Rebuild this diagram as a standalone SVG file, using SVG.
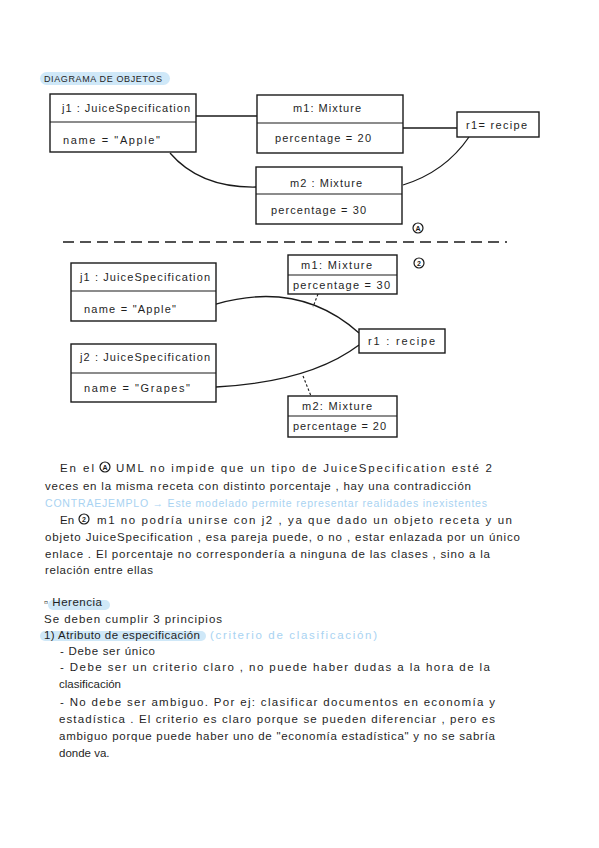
<svg xmlns="http://www.w3.org/2000/svg" width="599" height="848" viewBox="0 0 599 848">
<style>
.bg{fill:#ffffff}
.box{fill:#ffffff;stroke:#1a1a1a;stroke-width:1.4}
.div{stroke:#1a1a1a;stroke-width:1.2}
.ln{fill:none;stroke:#1a1a1a;stroke-width:1.3}
.dash{fill:none;stroke:#1a1a1a;stroke-width:1.1;stroke-dasharray:2.5 2}
.sep{fill:none;stroke:#1a1a1a;stroke-width:1.3;stroke-dasharray:11 6}
.t{font-family:"Liberation Sans",Arial,sans-serif;font-size:11.5px;fill:#1f1f1f}
.bt{font-family:"Liberation Sans",Arial,sans-serif;font-size:11px;fill:#1f1f1f}
.blue{fill:#a9d3f2}
.hl{fill:#cfe8f8}
.mark{fill:#ffffff;stroke:#1a1a1a;stroke-width:1.2}
.mt{font-family:"Liberation Sans",Arial,sans-serif;font-size:7px;font-weight:bold;fill:#1a1a1a;text-anchor:middle}
</style>
<rect class="bg" x="0" y="0" width="599" height="848"/>

<g id="title">
<rect class="hl" x="40" y="72" width="130" height="13" rx="6.5"/>
<text class="t" x="44" y="82" style="font-size:9px" textLength="118" lengthAdjust="spacing">DIAGRAMA DE OBJETOS</text>
</g>

<g id="connectors">
<line class="ln" x1="196" y1="116" x2="257" y2="116"/>
<line class="ln" x1="403" y1="128" x2="457" y2="128"/>
<path class="ln" d="M170 153 Q200 188 256 187"/>
<path class="ln" d="M469 137 Q445 172 403 185"/>
<line class="sep" x1="63" y1="242" x2="507" y2="242"/>
<path class="ln" d="M216 304 Q300 280 359 333"/>
<path class="ln" d="M216 387 Q310 382 359 345"/>
<line class="dash" x1="318" y1="294" x2="313" y2="307"/>
<line class="dash" x1="303" y1="376" x2="311" y2="396"/>
</g>

<g id="j1a">
<rect class="box" x="50" y="94" width="146" height="58"/>
<line class="div" x1="50" y1="122" x2="196" y2="122"/>
<text class="bt" x="62" y="112" textLength="128" lengthAdjust="spacing">j1 : JuiceSpecification</text>
<text class="bt" x="63" y="144" textLength="97" lengthAdjust="spacing">name = "Apple"</text>
</g>
<g id="m1a">
<rect class="box" x="257" y="95" width="146" height="58"/>
<line class="div" x1="257" y1="123" x2="403" y2="123"/>
<text class="bt" x="293" y="112" textLength="68" lengthAdjust="spacing">m1: Mixture</text>
<text class="bt" x="275" y="142" textLength="96" lengthAdjust="spacing">percentage =  20</text>
</g>
<g id="m2a">
<rect class="box" x="256" y="167" width="146" height="57"/>
<line class="div" x1="256" y1="194" x2="402" y2="194"/>
<text class="bt" x="290" y="187" textLength="72" lengthAdjust="spacing">m2 : Mixture</text>
<text class="bt" x="271" y="214" textLength="95" lengthAdjust="spacing">percentage = 30</text>
</g>
<g id="r1a">
<rect class="box" x="457" y="112" width="82" height="25"/>
<text class="bt" x="466" y="129" textLength="61" lengthAdjust="spacing">r1= recipe</text>
</g>
<g id="markA">
<circle class="mark" cx="418" cy="228" r="5"/>
<text class="mt" x="418" y="230.5">A</text>
</g>

<g id="mark2">
<circle class="mark" cx="419" cy="263" r="5"/>
<text class="mt" x="419" y="265.5">2</text>
</g>
<g id="j1b">
<rect class="box" x="71" y="263" width="145" height="58"/>
<line class="div" x1="71" y1="291" x2="216" y2="291"/>
<text class="bt" x="80" y="281" textLength="130" lengthAdjust="spacing">j1 : JuiceSpecification</text>
<text class="bt" x="84" y="313" textLength="92" lengthAdjust="spacing">name = "Apple"</text>
</g>
<g id="m1b">
<rect class="box" x="288" y="255" width="109" height="39"/>
<line class="div" x1="288" y1="275" x2="397" y2="275"/>
<text class="bt" x="301" y="269" textLength="71" lengthAdjust="spacing">m1: Mixture</text>
<text class="bt" x="293" y="289" textLength="97" lengthAdjust="spacing">percentage = 30</text>
</g>
<g id="r1b">
<rect class="box" x="359" y="329" width="86" height="24"/>
<text class="bt" x="368" y="345" textLength="67" lengthAdjust="spacing">r1 : recipe</text>
</g>
<g id="j2b">
<rect class="box" x="71" y="344" width="145" height="58"/>
<line class="div" x1="71" y1="373" x2="216" y2="373"/>
<text class="bt" x="80" y="361" textLength="130" lengthAdjust="spacing">j2 : JuiceSpecification</text>
<text class="bt" x="84" y="392" textLength="106" lengthAdjust="spacing">name = "Grapes"</text>
</g>
<g id="m2b">
<rect class="box" x="288" y="396" width="109" height="41"/>
<line class="div" x1="288" y1="416" x2="397" y2="416"/>
<text class="bt" x="302" y="410" textLength="70" lengthAdjust="spacing">m2: Mixture</text>
<text class="bt" x="293" y="430" textLength="93" lengthAdjust="spacing">percentage = 20</text>
</g>

<g id="notes">
<text class="t" x="60" y="472" textLength="34" lengthAdjust="spacing">En el</text>
<circle class="mark" cx="105" cy="467" r="5"/>
<text class="mt" x="105" y="469.5">A</text>
<text class="t" x="116" y="472" textLength="376" lengthAdjust="spacing">UML no impide que un tipo de JuiceSpecification esté 2</text>
<text class="t" x="45" y="490" textLength="426" lengthAdjust="spacing">veces en la misma receta con distinto porcentaje , hay una contradicción</text>
<text class="t blue" x="45" y="507" style="font-size:10.5px" textLength="442" lengthAdjust="spacing">CONTRAEJEMPLO → Este modelado permite representar realidades inexistentes</text>
<text class="t" x="60" y="524">En</text>
<circle class="mark" cx="84" cy="519" r="5"/>
<text class="mt" x="84" y="521.5">2</text>
<text class="t" x="97" y="524" textLength="415" lengthAdjust="spacing">m1 no podría unirse con j2 , ya que dado un objeto receta y un</text>
<text class="t" x="45" y="541" textLength="475" lengthAdjust="spacing">objeto JuiceSpecification , esa pareja puede, o no , estar enlazada por un único</text>
<text class="t" x="45" y="558" textLength="445" lengthAdjust="spacing">enlace . El porcentaje no correspondería a ninguna de las clases , sino a la</text>
<text class="t" x="45" y="574" textLength="108" lengthAdjust="spacing">relación entre ellas</text>

<rect class="hl" x="48" y="600" width="62" height="10" rx="5"/>
<text class="t" x="44" y="606" textLength="58" lengthAdjust="spacing">▫ Herencia</text>
<text class="t" x="44" y="623" textLength="178" lengthAdjust="spacing">Se deben cumplir 3 principios</text>
<rect class="hl" x="40" y="631" width="166" height="10" rx="5"/>
<text class="t" x="44" y="639" textLength="156" lengthAdjust="spacing">1) Atributo de especificación</text>
<text class="t blue" x="210" y="639" textLength="167" lengthAdjust="spacing">(criterio de clasificación)</text>
<text class="t" x="60" y="655" textLength="95" lengthAdjust="spacing">- Debe ser único</text>
<text class="t" x="60" y="671" textLength="430" lengthAdjust="spacing">- Debe ser un criterio claro , no puede haber dudas a la hora de la</text>
<text class="t" x="59" y="688">clasificación</text>
<text class="t" x="60" y="706" textLength="435" lengthAdjust="spacing">- No debe ser ambiguo. Por ej: clasificar documentos en economía y</text>
<text class="t" x="59" y="723" textLength="436" lengthAdjust="spacing">estadística . El criterio es claro porque se pueden diferenciar , pero es</text>
<text class="t" x="59" y="740" textLength="436" lengthAdjust="spacing">ambiguo porque puede haber uno de "economía estadística" y no se sabría</text>
<text class="t" x="59" y="757">donde va.</text>
</g>
</svg>
